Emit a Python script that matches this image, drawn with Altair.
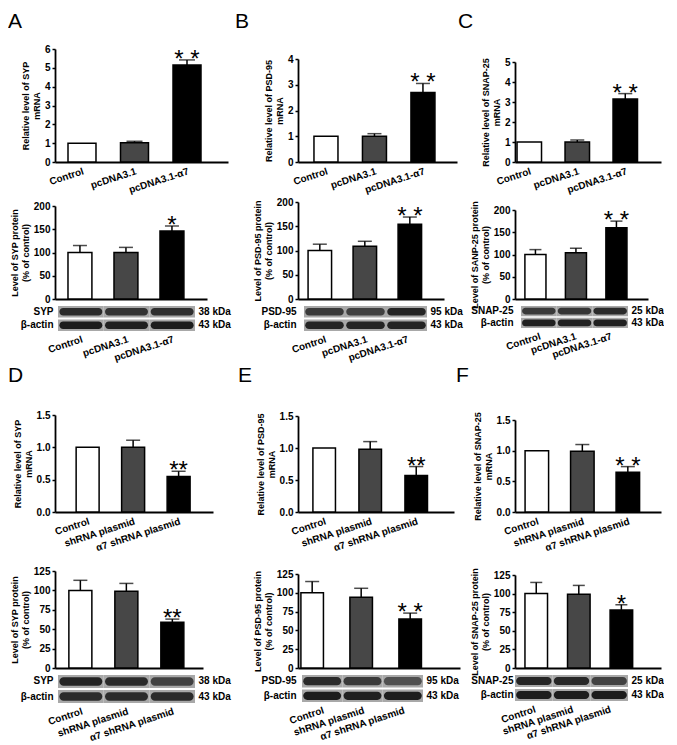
import altair as alt
import pandas as pd

FONT = "Liberation Sans"

top_groups = ["Control", "pcDNA3.1", "pcDNA3.1-α7"]
bot_groups = ["Control", "shRNA plasmid", "α7 shRNA plasmid"]
bar_colors = ["#ffffff", "#474747", "#000000"]

# ---- Panel A (SYP, overexpression)
a_mrna = [1.0, 1.02, 5.15]
a_mrna_err = [0.0, 0.08, 0.27]
a_mrna_sig = ["", "", "* *"]
a_prot = [100, 100, 146]
a_prot_err = [15, 11, 11]
a_prot_sig = ["", "", "*"]
a_blot_prot = [0.85, 0.8, 0.82]
a_blot_actin = [0.95, 0.93, 0.95]

# ---- Panel B (PSD-95, overexpression)
b_mrna = [1.0, 1.0, 2.7]
b_mrna_err = [0.0, 0.1, 0.35]
b_mrna_sig = ["", "", "* *"]
b_prot = [100, 109, 154]
b_prot_err = [13, 10, 15]
b_prot_sig = ["", "", "* *"]
b_blot_prot = [0.75, 0.7, 0.9]
b_blot_actin = [0.9, 0.9, 0.9]

# ---- Panel C (SNAP-25, overexpression)
c_mrna = [1.0, 1.0, 3.15]
c_mrna_err = [0.0, 0.1, 0.27]
c_mrna_sig = ["", "", "* *"]
c_prot = [100, 104, 160]
c_prot_err = [11, 10, 15]
c_prot_sig = ["", "", "* *"]
c_blot_prot = [0.75, 0.78, 0.85]
c_blot_actin = [0.92, 0.92, 0.92]

# ---- Panel D (SYP, knockdown)
d_mrna = [1.0, 1.0, 0.55]
d_mrna_err = [0.0, 0.11, 0.08]
d_mrna_sig = ["", "", "**"]
d_prot = [100, 99, 59]
d_prot_err = [13, 10, 4]
d_prot_sig = ["", "", "**"]
d_blot_prot = [0.9, 0.85, 0.7]
d_blot_actin = [0.85, 0.85, 0.85]

# ---- Panel E (PSD-95, knockdown)
e_mrna = [1.0, 0.98, 0.57]
e_mrna_err = [0.0, 0.12, 0.14]
e_mrna_sig = ["", "", "**"]
e_prot = [100, 94, 65]
e_prot_err = [15, 12, 8]
e_prot_sig = ["", "", "* *"]
e_blot_prot = [0.85, 0.75, 0.6]
e_blot_actin = [0.95, 0.92, 0.95]

# ---- Panel F (SNAP-25, knockdown)
f_mrna = [1.0, 0.99, 0.65]
f_mrna_err = [0.0, 0.11, 0.09]
f_mrna_sig = ["", "", "* *"]
f_prot = [100, 99, 78]
f_prot_err = [15, 12, 7]
f_prot_sig = ["", "", "*"]
f_blot_prot = [0.9, 0.88, 0.7]
f_blot_actin = [0.95, 0.95, 0.95]

a_mrna_ticks = [0, 1, 2, 3, 4, 5, 6]
b_mrna_ticks = [0, 1, 2, 3, 4]
c_mrna_ticks = [0, 1, 2, 3, 4, 5]
top_prot_ticks = [0, 50, 100, 150, 200]
bot_mrna_ticks = [0.0, 0.5, 1.0, 1.5]
bot_prot_ticks = [0, 25, 50, 75, 100, 125]

# ---- layout constants (pixels)
H_TM, H_TP = 118, 102
H_BM, H_BP = 102, 102
COL_W = [233, 207, 146]
GAP1, GAP2, GAP3 = 21, 65, 40


def panel_title(letter, dx, offset):
    return alt.TitleParams(letter, anchor="start", frame="group", fontSize=21, font=FONT,
                           fontWeight="normal", color="black", dx=dx, offset=offset,
                           baseline="alphabetic")


def bar_chart(groups, means, errs, sigs, ytitle, ticks, fmt, W, H, top, pi, po, al,
              show_labels, cap, sigsize=24, sigdy=7, title=None):
    df = pd.DataFrame({"g": groups, "m": means, "e": errs, "s": sigs, "c": bar_colors})
    df["t"] = df["m"] + df["e"]
    xaxis = alt.Axis(title=None, ticks=False, labels=show_labels, labelAngle=-18,
                     labelAlign="right", labelBaseline="top", labelPadding=4)
    x = alt.X("g:N", sort=groups,
              scale=alt.Scale(paddingInner=pi, paddingOuter=po, align=al), axis=xaxis)
    yscale = alt.Scale(domain=[ticks[0], ticks[-1]], nice=False, range=[H, top])
    yaxis = alt.Axis(title=ytitle, values=ticks, format=fmt)
    base = alt.Chart(df)
    bars = base.mark_bar(stroke="black", strokeWidth=1.5).encode(
        x=x, y=alt.Y("m:Q", scale=yscale, axis=yaxis),
        fill=alt.Fill("c:N", scale=None))
    rule = base.transform_filter("datum.e > 0").mark_rule(color="black", strokeWidth=1.5).encode(
        x=x, y=alt.Y("m:Q", scale=yscale, axis=yaxis), y2="t:Q")
    tick = base.transform_filter("datum.e > 0").mark_tick(color="black", thickness=1.5, size=cap).encode(
        x=x, y=alt.Y("t:Q", scale=yscale, axis=yaxis))
    text = base.mark_text(fontSize=sigsize, font=FONT, baseline="alphabetic", dy=sigdy,
                          color="black").encode(
        x=x, y=alt.Y("t:Q", scale=yscale, axis=yaxis), text="s:N")
    ch = alt.layer(bars, rule, tick, text).properties(width=W, height=H)
    if title is not None:
        ch = ch.properties(title=title)
    return ch


def blot_chart(groups, protein, kda, ip, ia, o, L, H):
    rows = [protein, "β-actin"]
    W = o + L
    po = 1.5 * o / L
    df = pd.DataFrame({"g": groups * 2, "r": [protein] * 3 + ["β-actin"] * 3, "i": ip + ia})
    x = alt.X("g:N", sort=groups,
              scale=alt.Scale(paddingInner=0, paddingOuter=po, align=1),
              axis=alt.Axis(title=None, domain=False, ticks=False, labelAngle=-18,
                            labelAlign="right", labelBaseline="top", labelPadding=3))
    yscale = alt.Scale(paddingInner=0.14, paddingOuter=0)
    bg = alt.Chart(df).mark_rect(color="#a8a8a8").encode(
        x=x, y=alt.Y("r:N", sort=rows, scale=yscale,
                     axis=alt.Axis(title=None, domain=False, ticks=False, labelPadding=2)))
    bands = alt.Chart(df).mark_rect(color="#151515", width=alt.RelativeBandSize(0.94),
                                    height=alt.RelativeBandSize(0.66), cornerRadius=5).encode(
        x=x,
        y=alt.Y("r:N", sort=rows, scale=yscale,
                axis=alt.Axis(title=None, domain=False, ticks=False, orient="right", labelPadding=3,
                              labelExpr=f"datum.value == '{protein}' ? '{kda}' : '43 kDa'")),
        opacity=alt.Opacity("i:Q", scale=None))
    return alt.layer(bg, bands).resolve_axis(y="independent").properties(width=W, height=H)


def spacer(w, h):
    return alt.Chart(pd.DataFrame({"v": [0]})).mark_point(opacity=0).encode(
        x=alt.value(0), y=alt.value(0)).properties(width=w, height=h)


# ---------------- top row ----------------
mA = bar_chart(top_groups, a_mrna, a_mrna_err, a_mrna_sig, ["Relative level of SYP", "mRNA"],
               a_mrna_ticks, "d", 173, H_TM, 5, 0.467, 0.381, 0.325, True, 16,
               title=panel_title("A", -47, -5))
pA = bar_chart(top_groups, a_prot, a_prot_err, a_prot_sig, ["Level of SYP protein", "(% of control)"],
               top_prot_ticks, "d", 152, H_TP, 9, 0.48, 0.392, 0.36, False, 14)
bA = blot_chart(top_groups, "SYP", "38 kDa", a_blot_prot, a_blot_actin, 3, 137, 25)

mB = bar_chart(top_groups, b_mrna, b_mrna_err, b_mrna_sig, ["Relative level of PSD-95", "mRNA"],
               b_mrna_ticks, "d", 159, H_TM, 15, 0.505, 0.392, 0.42, True, 14,
               title=panel_title("B", -63, -5))
pB = bar_chart(top_groups, b_prot, b_prot_err, b_prot_sig, ["Level of PSD-95 protein", "(% of control)"],
               top_prot_ticks, "d", 146, H_TP, 5, 0.478, 0.361, 0.31, False, 14)
bB = blot_chart(top_groups, "PSD-95", "95 kDa", b_blot_prot, b_blot_actin, 6, 123, 25)

mC = bar_chart(top_groups, c_mrna, c_mrna_err, c_mrna_sig, ["Relative level of SNAP-25", "mRNA"],
               c_mrna_ticks, "d", 146, H_TM, 18, 0.49, 0.266, 0.08, True, 14,
               title=panel_title("C", -57, -5))
pC = bar_chart(top_groups, c_prot, c_prot_err, c_prot_sig, ["Level of SANP-25 protein", "(% of control)"],
               top_prot_ticks, "d", 133, H_TP, 13, 0.48, 0.382, 0.32, False, 12)
bC = blot_chart(top_groups, "SNAP-25", "25 kDa", c_blot_prot, c_blot_actin, 6, 107, 22)

# ---------------- bottom row ----------------
mD = bar_chart(bot_groups, d_mrna, d_mrna_err, d_mrna_sig, ["Relative level of SYP", "mRNA"],
               bot_mrna_ticks, ".1f", 158, H_BM, 5, 0.495, 0.484, 0.48, True, 14,
               title=panel_title("D", -47, 7))
pD = bar_chart(bot_groups, d_prot, d_prot_err, d_prot_sig, ["Level of SYP protein", "(% of control)"],
               bot_prot_ticks, "d", 148, H_BP, 5, 0.5, 0.359, 0.42, False, 14)
bD = blot_chart(bot_groups, "SYP", "38 kDa", d_blot_prot, d_blot_actin, 3, 137, 28)

mE = bar_chart(bot_groups, e_mrna, e_mrna_err, e_mrna_sig, ["Relative level of PSD-95", "mRNA"],
               bot_mrna_ticks, ".1f", 156, H_BM, 6, 0.51, 0.45, 0.36, True, 14,
               title=panel_title("E", -60, 7))
pE = bar_chart(bot_groups, e_prot, e_prot_err, e_prot_sig, ["Level of PSD-95 protein", "(% of control)"],
               bot_prot_ticks, "d", 162, H_BP, 8, 0.54, 0.423, 0.07, False, 14)
bE = blot_chart(bot_groups, "PSD-95", "95 kDa", e_blot_prot, e_blot_actin, 4, 121, 27)

mF = bar_chart(bot_groups, f_mrna, f_mrna_err, f_mrna_sig, ["Relative level of SNAP-25", "mRNA"],
               bot_mrna_ticks, ".1f", 146, H_BM, 10, 0.483, 0.346, 0.32, True, 14,
               title=panel_title("F", -59, 7))
pF = bar_chart(bot_groups, f_prot, f_prot_err, f_prot_sig, ["Level of SNAP-25 protein", "(% of control)"],
               bot_prot_ticks, "d", 146, H_BP, 9, 0.47, 0.45, 0.26, False, 12)
bF = blot_chart(bot_groups, "SNAP-25", "25 kDa", f_blot_prot, f_blot_actin, 0, 113, 26)

cells = [
    mA, mB, mC,
    spacer(COL_W[0], GAP1), spacer(COL_W[1], GAP1), spacer(COL_W[2], GAP1),
    pA, pB, pC,
    bA, bB, bC,
    spacer(COL_W[0], GAP2), spacer(COL_W[1], GAP2), spacer(COL_W[2], GAP2),
    mD, mE, mF,
    spacer(COL_W[0], GAP3), spacer(COL_W[1], GAP3), spacer(COL_W[2], GAP3),
    pD, pE, pF,
    bD, bE, bF,
]

chart = alt.concat(*cells, columns=3, align="each", bounds="flush",
                   spacing=alt.RowColnumber(row=7, column=10)).properties(
    padding={"top": 3, "left": 0, "right": 0, "bottom": 0}
).configure_view(
    stroke=None
).configure_axis(
    labelFont=FONT, labelFontWeight="bold", labelFontSize=10, labelColor="black",
    titleFont=FONT, titleFontWeight="bold", titleFontSize=9, titleColor="black",
    titlePadding=3, labelPadding=2,
    domainColor="black", domainWidth=1.8, tickColor="black", tickWidth=1.5, tickSize=3,
    grid=False, labelOverlap=False
)

chart.save("out.html", embed_options={"renderer": "svg", "actions": False})
